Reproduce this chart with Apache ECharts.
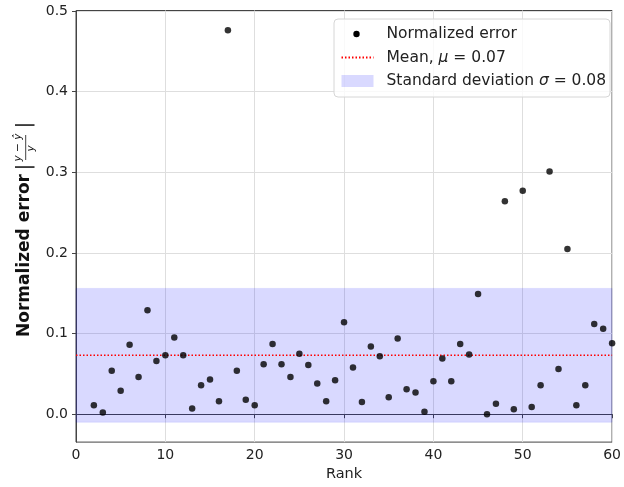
<!DOCTYPE html>
<html>
<head>
<meta charset="utf-8">
<script src="https://cdn.jsdelivr.net/npm/echarts@6/dist/echarts.min.js"></script>
<style>
  html, body { margin: 0; padding: 0; background: #fff; }
  #chart { width: 624px; height: 487px; }
</style>
</head>
<body>
<div id="chart"></div>
<script>
// ranks on the x axis and the normalized error
var ranks = [2, 3, 4, 5, 6, 7, 8, 9, 10, 11,
             12, 13, 14, 15, 16, 17, 18, 19, 20, 21,
             22, 23, 24, 25, 26, 27, 28, 29, 30, 31,
             32, 33, 34, 35, 36, 37, 38, 39, 40, 41,
             42, 43, 44, 45, 46, 47, 48, 49, 50, 51,
             52, 53, 54, 55, 56, 57, 58, 59, 60];
var errors = [0.011, 0.002, 0.054, 0.029, 0.086, 0.046, 0.129, 0.066, 0.073, 0.095,
              0.073, 0.007, 0.036, 0.043, 0.016, 0.476, 0.054, 0.018, 0.011, 0.062,
              0.087, 0.062, 0.046, 0.075, 0.061, 0.038, 0.016, 0.042, 0.114, 0.058,
              0.015, 0.084, 0.072, 0.021, 0.094, 0.031, 0.027, 0.003, 0.041, 0.069,
              0.041, 0.087, 0.074, 0.149, 0.000, 0.013, 0.264, 0.006, 0.277, 0.009,
              0.036, 0.301, 0.056, 0.205, 0.011, 0.036, 0.112, 0.106, 0.088];
var meanErr = 0.073;
var stdErr = 0.083;
var xTicks = [0, 10, 20, 30, 40, 50, 60];
var yTicks = [0.0, 0.1, 0.2, 0.3, 0.4, 0.5];
var xRange = [0, 60];
var yRange = [-0.0346, 0.5006];

var FONT = "DejaVu Sans";
var TXT = "#222";
var BAND = "rgba(0,0,255,0.15)";

var chart = echarts.init(document.getElementById("chart"), null, { renderer: "canvas" });

var points = ranks.map(function (r, i) { return [r, errors[i]]; });

//****************************** legend text *************************************//
function legendText(name) {
  if (name === "Mean") return "{n|Mean, }{i|μ}{n| = " + meanErr.toFixed(2) + "}";
  if (name === "Standard deviation") return "{n|Standard deviation }{i|σ}{n| = " + stdErr.toFixed(2) + "}";
  return "{n|" + name + "}";
}
var legendRich = {
  n: { fontFamily: FONT, fontSize: 15.5, color: TXT },
  i: { fontFamily: FONT, fontSize: 15.5, color: TXT, fontStyle: "italic" }
};

var option = {
  animation: false,
  backgroundColor: "#fff",
  grid: {
    left: 76, right: 6.7, top: 10.5, bottom: 44.5,
    show: true, borderColor: "#444", borderWidth: 1
  },
  xAxis: {
    type: "value",
    min: xRange[0], max: xRange[1], interval: 10,
    name: "Rank", nameLocation: "middle", nameGap: 24,
    nameTextStyle: { fontFamily: FONT, fontSize: 14.5, color: TXT },
    axisLine: { show: true, lineStyle: { color: "#444", width: 1 } },
    axisTick: { show: true, length: 4, lineStyle: { color: "#444" }, customValues: xTicks },
    axisLabel: { fontFamily: FONT, fontSize: 14, color: TXT, margin: 6, customValues: xTicks },
    splitLine: { show: true, lineStyle: { color: "#dedede", width: 1 } }
  },
  yAxis: {
    type: "value",
    min: yRange[0], max: yRange[1],
    axisLine: { show: true, lineStyle: { color: "#444", width: 1 } },
    axisTick: { show: true, length: 4, lineStyle: { color: "#444" }, customValues: yTicks },
    axisLabel: {
      fontFamily: FONT, fontSize: 14, color: TXT, margin: 8,
      customValues: yTicks,
      formatter: function (v) { return v.toFixed(1); }
    },
    splitLine: { show: true, lineStyle: { color: "#dedede", width: 1 } }
  },
  legend: {
    data: [
      { name: "Normalized error", icon: "none" },
      { name: "Mean", itemStyle: { opacity: 0 } },
      { name: "Standard deviation", icon: "rect", itemStyle: { color: BAND, borderWidth: 0 } }
    ],
    orient: "vertical", left: 340.5, top: 24, padding: 0,
    itemWidth: 32, itemHeight: 12, itemGap: 3.5,
    selectedMode: false, z: 6,
    textStyle: { fontFamily: FONT, fontSize: 15.5, color: TXT, lineHeight: 20,
                 padding: [0, 0, 0, 8], rich: legendRich },
    formatter: legendText
  },
  graphic: [
    // legend frame
    {
      type: "rect", z: 5,
      shape: { x: 334, y: 19, width: 276, height: 78, r: 4 },
      style: { fill: "rgba(255,255,255,0.8)", stroke: "#d6d6d6", lineWidth: 1 }
    },
    // marker of the first legend row (small dot, centred in the icon slot)
    {
      type: "circle", z: 7,
      shape: { cx: 356.5, cy: 34, r: 3.2 },
      style: { fill: "#000" }
    },
    // y axis title, rotated to read bottom to top
    {
      type: "group", x: 25, y: 337, rotation: Math.PI / 2, z: 5,
      children: [
        { type: "text", x: 0, y: 0,
          style: { text: "Normalized error", fontFamily: FONT, fontWeight: "bold", fontSize: 17,
                   fill: "#111", align: "left", verticalAlign: "middle" } },
        { type: "text", x: 170, y: 0,
          style: { text: "|", fontFamily: FONT, fontSize: 19, fill: "#111", align: "center", verticalAlign: "middle" } },
        { type: "text", x: 189.5, y: -6.5,
          style: { text: "y − ŷ", fontFamily: FONT, fontStyle: "italic", fontSize: 10.5, fill: "#111",
                   align: "center", verticalAlign: "middle" } },
        { type: "line", shape: { x1: 177, y1: 0.7, x2: 202, y2: 0.7 },
          style: { stroke: "#111", lineWidth: 0.8 } },
        { type: "text", x: 188.5, y: 6.5,
          style: { text: "y", fontFamily: FONT, fontStyle: "italic", fontSize: 10.5, fill: "#111",
                   align: "center", verticalAlign: "middle" } },
        { type: "text", x: 212, y: 0,
          style: { text: "|", fontFamily: FONT, fontSize: 19, fill: "#111", align: "center", verticalAlign: "middle" } }
      ]
    }
  ],
  series: [
    {
      name: "Standard deviation",
      type: "line",
      data: [],
      itemStyle: { color: BAND },
      z: 1,
      markArea: {
        silent: true,
        itemStyle: { color: BAND, borderColor: "rgba(0,0,255,0.08)", borderWidth: 1 },
        data: [[{ yAxis: meanErr - stdErr }, { yAxis: meanErr + stdErr }]]
      }
    },
    {
      name: "Mean",
      type: "line",
      data: [[xRange[0], meanErr], [xRange[1], meanErr]],
      symbol: "none",
      itemStyle: { color: "red" },
      lineStyle: { color: "red", width: 1.5, type: [1.5, 2] },
      z: 2
    },
    {
      name: "Normalized error",
      type: "scatter",
      data: points,
      symbolSize: 6.5,
      itemStyle: { color: "#000" },
      z: 3
    }
  ]
};

chart.setOption(option);
</script>
</body>
</html>
